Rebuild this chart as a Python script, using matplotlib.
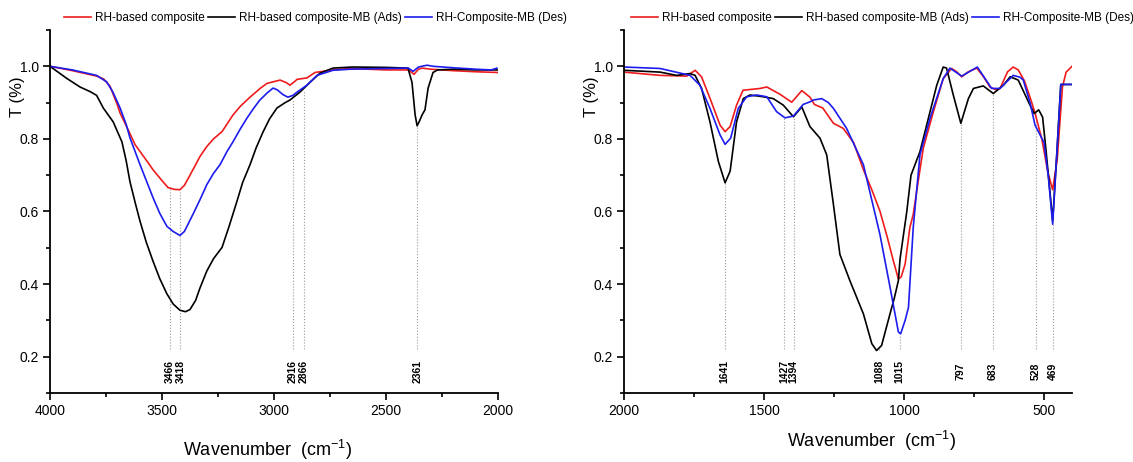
import matplotlib
matplotlib.use("Agg")
import matplotlib.pyplot as plt
from matplotlib.ticker import MultipleLocator

plt.rcParams['font.family'] = ['Liberation Sans', 'DejaVu Sans']
plt.rcParams['mathtext.default'] = 'regular'

# ---- left panel (4000-2000 cm-1) ----
left_red_w = [4000, 3900, 3792, 3760, 3732, 3700, 3687, 3651, 3620, 3580, 3540, 3500, 3473,
              3445, 3420, 3400, 3375, 3330, 3300, 3270, 3232, 3183, 3150, 3107, 3060, 3031,
              2973, 2945, 2929, 2910, 2897, 2853, 2817, 2737, 2661, 2500, 2400, 2375, 2355,
              2339, 2300, 2200, 2100, 2000]
left_red_t = [1.000, 0.988, 0.973, 0.965, 0.945, 0.895, 0.871, 0.825, 0.784, 0.750, 0.715,
              0.685, 0.666, 0.661, 0.660, 0.672, 0.700, 0.752, 0.779, 0.800, 0.820, 0.866,
              0.890, 0.915, 0.940, 0.953, 0.962, 0.955, 0.948, 0.957, 0.964, 0.968, 0.983,
              0.990, 0.994, 0.990, 0.990, 0.978, 0.992, 0.995, 0.992, 0.988, 0.985, 0.983]

left_blue_w = [4000, 3900, 3792, 3747, 3720, 3687, 3660, 3643, 3620, 3598, 3570, 3540, 3510,
               3478, 3450, 3420, 3400, 3362, 3330, 3300, 3270, 3241, 3210, 3183, 3150, 3121,
               3090, 3063, 3030, 3004, 2985, 2960, 2938, 2915, 2897, 2853, 2808, 2737, 2661,
               2500, 2400, 2379, 2355, 2317, 2290, 2200, 2100, 2030, 2005]
left_blue_t = [1.000, 0.990, 0.975, 0.957, 0.930, 0.885, 0.840, 0.803, 0.765, 0.729, 0.685,
               0.638, 0.595, 0.559, 0.545, 0.534, 0.545, 0.592, 0.633, 0.674, 0.705, 0.729,
               0.765, 0.792, 0.828, 0.857, 0.885, 0.907, 0.927, 0.940, 0.935, 0.922, 0.915,
               0.920, 0.929, 0.948, 0.975, 0.989, 0.992, 0.994, 0.995, 0.986, 0.998, 1.003,
               1.000, 0.996, 0.992, 0.990, 0.995]

left_black_w = [4000, 3926, 3866, 3820, 3792, 3762, 3718, 3679, 3660, 3643, 3620, 3598, 3570,
                3540, 3510, 3478, 3450, 3420, 3395, 3375, 3350, 3330, 3300, 3270, 3232, 3200,
                3166, 3140, 3107, 3080, 3049, 3020, 2987, 2950, 2929, 2884, 2839, 2795, 2737,
                2650, 2500, 2402, 2384, 2370, 2361, 2350, 2339, 2326, 2312, 2290, 2270, 2200,
                2100, 2000]
left_black_t = [1.000, 0.967, 0.943, 0.930, 0.920, 0.885, 0.847, 0.792, 0.740, 0.682, 0.625,
                0.573, 0.515, 0.463, 0.415, 0.373, 0.345, 0.328, 0.324, 0.330, 0.355, 0.390,
                0.436, 0.470, 0.501, 0.560, 0.627, 0.680, 0.729, 0.775, 0.819, 0.855, 0.885,
                0.900, 0.907, 0.929, 0.956, 0.981, 0.995, 0.998, 0.997, 0.995, 0.956, 0.866,
                0.836, 0.850, 0.866, 0.880, 0.940, 0.983, 0.990, 0.992, 0.990, 0.990]

left_peaks = [3466, 3418, 2916, 2866, 2361]
left_peak_tops = [0.665, 0.66, 0.91, 0.935, 0.836]

# ---- right panel (2000-400 cm-1) ----
right_red_w = [2000, 1871, 1776, 1746, 1723, 1693, 1657, 1639, 1621, 1598, 1575, 1514, 1490,
               1443, 1401, 1365, 1336, 1320, 1290, 1252, 1217, 1180, 1145, 1115, 1086, 1060,
               1038, 1020, 1010, 996, 979, 967, 950, 931, 895, 860, 830, 812, 794, 770, 740,
               715, 693, 670, 657, 630, 610, 592, 570, 550, 532, 507, 486, 469, 453, 434,
               421, 400]
right_red_t = [0.984, 0.975, 0.973, 0.989, 0.971, 0.912, 0.838, 0.820, 0.834, 0.893, 0.934,
               0.939, 0.943, 0.923, 0.901, 0.933, 0.915, 0.895, 0.885, 0.843, 0.829, 0.790,
               0.715, 0.660, 0.601, 0.530, 0.464, 0.414, 0.420, 0.455, 0.556, 0.592, 0.680,
               0.775, 0.875, 0.966, 0.994, 0.985, 0.971, 0.985, 0.995, 0.970, 0.943, 0.935,
               0.939, 0.985, 0.998, 0.990, 0.960, 0.915, 0.871, 0.797, 0.707, 0.660, 0.742,
               0.943, 0.984, 1.000]

right_blue_w = [2000, 1871, 1764, 1729, 1693, 1657, 1639, 1619, 1592, 1562, 1526, 1490, 1455,
                1425, 1395, 1360, 1336, 1324, 1294, 1270, 1252, 1205, 1145, 1086, 1050, 1020,
                1012, 996, 984, 967, 943, 907, 860, 836, 794, 738, 687, 657, 610, 586, 574,
                550, 532, 500, 485, 469, 455, 440, 400]
right_blue_t = [0.998, 0.994, 0.975, 0.948, 0.884, 0.811, 0.785, 0.802, 0.884, 0.916, 0.921,
                0.916, 0.875, 0.858, 0.863, 0.895, 0.902, 0.907, 0.911, 0.900, 0.884, 0.829,
                0.729, 0.537, 0.392, 0.268, 0.263, 0.300, 0.336, 0.556, 0.756, 0.857, 0.966,
                0.995, 0.973, 0.998, 0.939, 0.939, 0.975, 0.970, 0.962, 0.900, 0.838, 0.790,
                0.700, 0.565, 0.750, 0.950, 0.950]

right_black_w = [2000, 1871, 1812, 1764, 1746, 1723, 1693, 1663, 1639, 1621, 1598, 1574, 1550,
                 1502, 1467, 1431, 1395, 1365, 1336, 1300, 1276, 1252, 1229, 1193, 1145, 1115,
                 1098, 1080, 1050, 1035, 1020, 1014, 990, 975, 943, 907, 883, 860, 848, 824,
                 797, 770, 752, 717, 681, 645, 621, 604, 592, 550, 535, 519, 505, 493, 469,
                 455, 440, 400]
right_black_t = [0.989, 0.984, 0.975, 0.980, 0.975, 0.939, 0.847, 0.738, 0.679, 0.711, 0.847,
                 0.911, 0.921, 0.916, 0.911, 0.893, 0.861, 0.888, 0.834, 0.802, 0.756, 0.619,
                 0.482, 0.409, 0.318, 0.236, 0.217, 0.231, 0.318, 0.360, 0.410, 0.470, 0.600,
                 0.700, 0.765, 0.875, 0.948, 0.998, 0.995, 0.921, 0.843, 0.911, 0.939, 0.946,
                 0.925, 0.948, 0.971, 0.966, 0.962, 0.893, 0.870, 0.880, 0.860, 0.770, 0.575,
                 0.750, 0.950, 0.950]

right_peaks = [1641, 1427, 1394, 1088, 1015, 797, 683, 528, 469]
right_peak_tops = [0.68, 0.858, 0.861, 0.217, 0.263, 0.843, 0.925, 0.87, 0.565]

series_names = ['RH-based composite', 'RH-based composite-MB (Ads)', 'RH-Composite-MB (Des)']
series_colors = ['#ee1c1c', 'black', '#1c1cee']

fig = plt.figure(figsize=(11.33, 4.62), dpi=100)
ax1 = fig.add_axes([50 / 1133, 1 - 393 / 462, 448 / 1133, 363 / 462])
ax2 = fig.add_axes([624 / 1133, 1 - 393 / 462, 448 / 1133, 363 / 462])

panels = [
    (ax1, (4000, 2000), [(left_red_w, left_red_t), (left_black_w, left_black_t),
                         (left_blue_w, left_blue_t)], left_peaks, left_peak_tops,
     (0.485, -0.125), 0.0512),
    (ax2, (2000, 400), [(right_red_w, right_red_t), (right_black_w, right_black_t),
                        (right_blue_w, right_blue_t)], right_peaks, right_peak_tops,
     (0.553, -0.099), 0.5516),
]

for ax, xlim, curves, peaks, tops, xlab_pos, leg_x in panels:
    # dotted guide lines + peak labels
    for p, top in zip(peaks, tops):
        ax.plot([p, p], [0.22, top], color='#9a9a9a', lw=0.8, ls=':', zorder=1)
        ax.text(p, 0.16, str(p), rotation=90, ha='center', va='center',
                fontsize=7.5, fontweight='bold')
    for (w, t), name, c in zip(curves, series_names, series_colors):
        ax.plot(w, t, color=c, lw=1.2, label=name, zorder=2)

    ax.set_xlim(*xlim)
    ax.set_ylim(0.1, 1.1)
    ax.xaxis.set_major_locator(MultipleLocator(500))
    ax.xaxis.set_minor_locator(MultipleLocator(250))
    ax.yaxis.set_major_locator(MultipleLocator(0.2))
    ax.yaxis.set_minor_locator(MultipleLocator(0.1))
    ax.tick_params(which='major', direction='out', length=5, width=1.2, labelsize=10, pad=3)
    ax.tick_params(which='minor', direction='out', length=3, width=1.2)
    for s in ['top', 'right']:
        ax.spines[s].set_visible(False)
    for s in ['left', 'bottom']:
        ax.spines[s].set_linewidth(1.3)

    ax.set_ylabel('T (%)', fontsize=12)
    ax.yaxis.set_label_coords(-25 / 448, 0.815)
    ax.set_xlabel(r'Wavenumber  (cm$^{-1}$)', fontsize=13)
    ax.xaxis.set_label_coords(*xlab_pos)

    ax.legend(loc='center left', bbox_to_anchor=(leg_x, 1 - 18 / 462),
              bbox_transform=fig.transFigure, ncol=3, frameon=False, fontsize=8.5,
              handlelength=2.3, handletextpad=0.3, columnspacing=0.3, borderpad=0)

fig.savefig('out.png', dpi=100)
